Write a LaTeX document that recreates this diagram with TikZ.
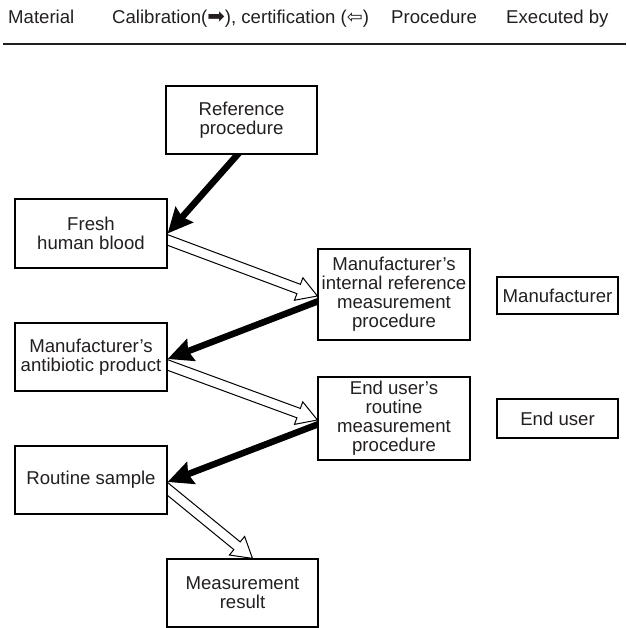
\documentclass[tikz,border=0pt]{standalone}
\usepackage{fontspec}
\setmainfont{Liberation Sans}
\newfontfamily\symfont{DejaVu Sans}
\usetikzlibrary{calc,arrows.meta,backgrounds}
\definecolor{txt}{RGB}{35,31,32}
\newcommand\hollowarrow[2]{%
  \draw[line width=1pt, fill=white, line join=miter]
    ($(#1)!-8pt!(#2)!5pt!90:(#2)$) --
    ($(#2)!20pt!(#1)!5pt!90:(#2)$) --
    ($(#2)!20pt!(#1)!12pt!90:(#2)$) --
    (#2) --
    ($(#2)!20pt!(#1)!12pt!-90:(#2)$) --
    ($(#2)!20pt!(#1)!5pt!-90:(#2)$) --
    ($(#1)!-8pt!(#2)!5pt!-90:(#2)$) -- cycle;}
\newcommand\solidarrow[2]{%
  \draw[line width=6.5pt, -{Stealth[length=25pt,width=23pt,inset=3pt]}]
    ($(#1)!-8pt!(#2)$) -- (#2);}
\begin{document}
\begin{tikzpicture}[x=1pt,y=-1pt,
  box/.style={draw=black, line width=1.2pt, fill=white, text=txt, align=center,
    inner sep=1pt, font=\fontsize{18.6}{19}\selectfont},
  head/.style={anchor=base west, inner sep=0pt, text=txt, font=\fontsize{18.6}{19}\selectfont}]
\useasboundingbox (0,0) rectangle (626,628);
% header
\node[head] (h1) at (8,24) {Material};
\node[head] (h2) at (112,24) {Calibration({\symfont\fontsize{21}{19}\selectfont ➡}), certification ({\symfont\fontsize{19}{19}\selectfont ⇦})};
\node[head] (h3) at (391,24) {Procedure};
\node[head] (h4) at (506,24) {Executed by};
\coordinate (r1) at (3,44);
\coordinate (r2) at (626,44);
\draw[line width=2.4pt, draw=txt] (r1) -- (r2);
% boxes
\node[box, minimum width=151pt, minimum height=68pt] (ref) at (241.5,120) {Reference\\procedure};
\node[box, minimum width=152pt, minimum height=69pt] (blood) at (91,233.5) {Fresh\\human blood};
\node[box, minimum width=152pt, minimum height=91pt] (mir) at (394,294.5) {Manufacturer's\\internal reference\\measurement\\procedure};
\node[box, minimum width=121pt, minimum height=37pt] (manu) at (557.5,295.5) {Manufacturer};
\node[box, minimum width=152pt, minimum height=68pt] (anti) at (91,357) {Manufacturer's\\antibiotic product};
\node[box, minimum width=152pt, minimum height=83pt] (eu) at (394,418.5) {End user's\\routine\\measurement\\procedure};
\node[box, minimum width=121pt, minimum height=39pt] (enduser) at (557.5,418.5) {End user};
\node[box, minimum width=152pt, minimum height=68pt] (routine) at (91,480) {Routine sample};
\node[box, minimum width=151pt, minimum height=68pt] (meas) at (242.5,593) {Measurement\\result};
% anchor points
\coordinate (w1s) at ($(blood.east)+(0,6.5)$);
\coordinate (w1e) at ($(mir.west)+(0,1.5)$);
\coordinate (w2s) at ($(anti.east)+(0,8)$);
\coordinate (w2e) at ($(eu.west)+(0,1.5)$);
\coordinate (w3s) at ($(routine.east)+(0,9)$);
\coordinate (w3e) at ($(meas.north)+(10,0)$);
\coordinate (b1s) at ($(ref.south)+(-4,0)$);
\coordinate (b1e) at (blood.east);
\coordinate (b2s) at ($(mir.west)+(0,7)$);
\coordinate (b2e) at ($(anti.east)+(0,2)$);
\coordinate (b3s) at ($(eu.west)+(0,6)$);
\coordinate (b3e) at ($(routine.east)+(0,2)$);
\begin{scope}[on background layer]
\hollowarrow{w1s}{w1e}
\hollowarrow{w2s}{w2e}
\hollowarrow{w3s}{w3e}
\solidarrow{b1s}{b1e}
\solidarrow{b2s}{b2e}
\solidarrow{b3s}{b3e}
\end{scope}
\end{tikzpicture}
\end{document}
